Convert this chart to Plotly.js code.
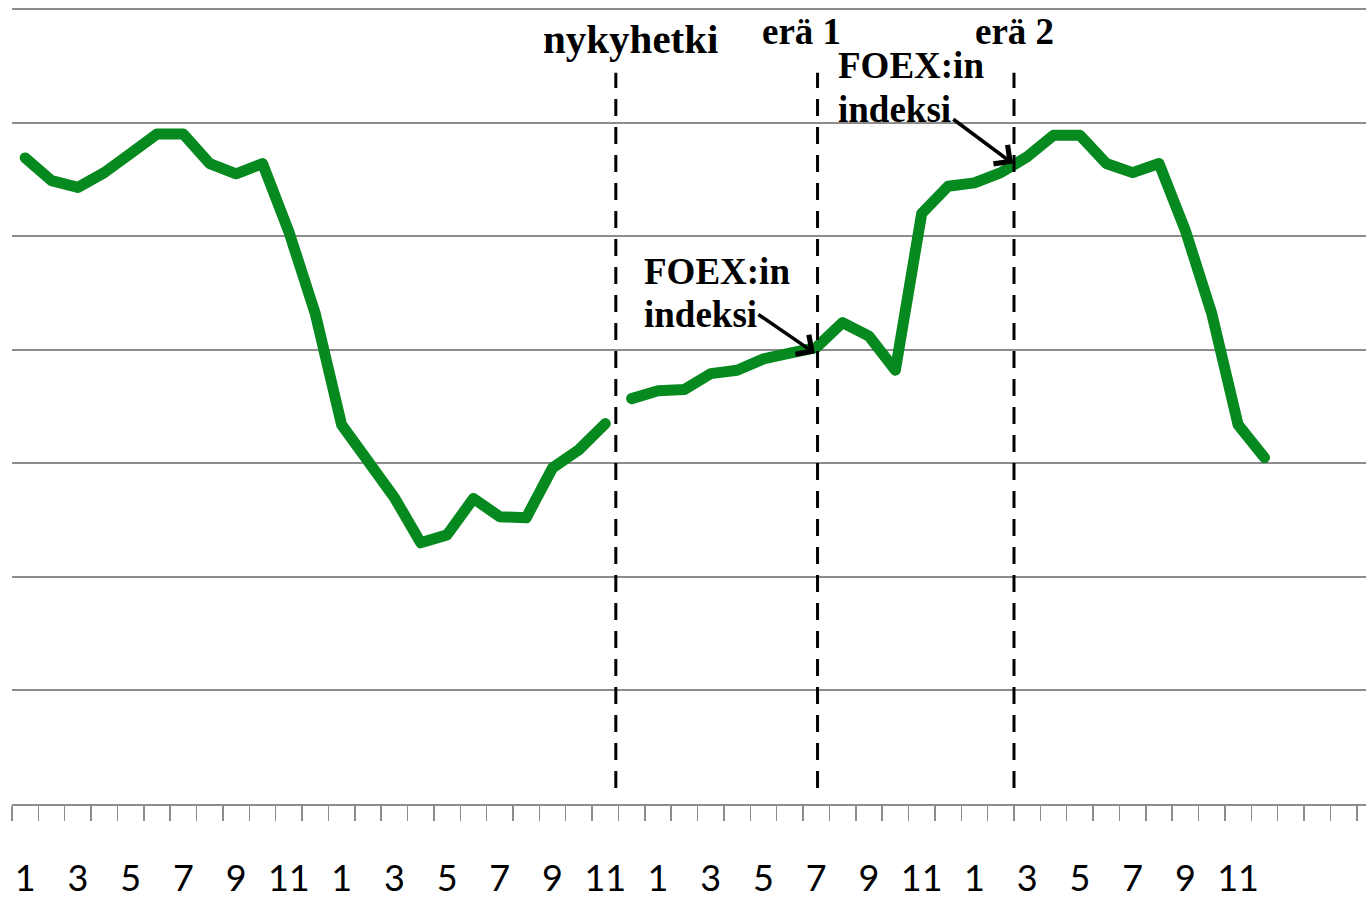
<!DOCTYPE html>
<html>
<head>
<meta charset="utf-8">
<script src="https://cdn.plot.ly/plotly-3.0.1.min.js"></script>
<style>
html,body{margin:0;padding:0;background:#fff;}
#chart{width:1366px;height:901px;}
.scatterlayer path.js-line{stroke-linecap:round !important;stroke-linejoin:round !important;}
</style>
</head>
<body>
<div id="chart"></div>
<script>
// Month labels (4 years, monthly)
const kuukaudet = [1,2,3,4,5,6,7,8,9,10,11,12, 1,2,3,4,5,6,7,8,9,10,11,12,
                   1,2,3,4,5,6,7,8,9,10,11,12, 1,2,3,4,5,6,7,8,9,10,11,12];
// Historical index (months 1..23)
const historia = [5.69,5.49,5.43,5.56,5.73,5.90,5.90,5.64,5.55,5.64,5.04,4.32,
                  3.34,3.01,2.70,2.30,2.37,2.69,2.53,2.52,2.96,3.12,3.35];
// Forecast (months 24..48)
const ennuste = [3.57,3.64,3.65,3.79,3.82,3.92,3.97,4.02,4.24,4.12,3.82,5.20,
                 5.44,5.47,5.56,5.70,5.89,5.89,5.64,5.56,5.64,5.05,4.32,3.34,3.05];
// Event markers (category position) and labels
const tapahtumat = [
  {nimi: 'nykyhetki', x: 22.4},
  {nimi: 'erä 1', x: 30.05},
  {nimi: 'erä 2', x: 37.5}
];

const xHist = historia.map((_, i) => i);
const xEnn = ennuste.map((_, i) => i + historia.length);
const tickIdx = kuukaudet.map((_, i) => i).filter(i => i % 2 === 0);

const green = '#06891E';
const serif = 'Liberation Serif, Times New Roman, serif';

const traces = [
  {x: xHist, y: historia, type: 'scatter', mode: 'lines',
   line: {color: green, width: 11}, hoverinfo: 'skip', showlegend: false},
  {x: xEnn, y: ennuste, type: 'scatter', mode: 'lines',
   line: {color: green, width: 11}, hoverinfo: 'skip', showlegend: false}
];

const shapes = tapahtumat.map(t => ({
  type: 'line', xref: 'x', yref: 'y', x0: t.x, x1: t.x, y0: 0.14, y1: 6.44,
  line: {color: '#000', width: 3, dash: '17px,11px'}
}));

const txtFont = {family: serif, size: 37, color: '#000'};
const annotations = [
  {text: '<b>' + tapahtumat[0].nimi + '</b>', x: 22.94, y: 6.74, xref: 'x', yref: 'y', showarrow: false,
   xanchor: 'center', yanchor: 'middle', font: {family: serif, size: 41, color: '#000'}},
  {text: '<b>' + tapahtumat[1].nimi + '</b>', x: 29.43, y: 6.80, xref: 'x', yref: 'y', showarrow: false,
   xanchor: 'center', yanchor: 'middle', font: txtFont},
  {text: '<b>' + tapahtumat[2].nimi + '</b>', x: 37.53, y: 6.80, xref: 'x', yref: 'y', showarrow: false,
   xanchor: 'center', yanchor: 'middle', font: txtFont},
  {text: '<b>FOEX:in</b>', x: 30.74, y: 6.50, xref: 'x', yref: 'y', showarrow: false,
   xanchor: 'left', yanchor: 'middle', font: txtFont},
  {text: '<b>indeksi</b>', x: 30.74, y: 6.12, xref: 'x', yref: 'y', showarrow: false,
   xanchor: 'left', yanchor: 'middle', font: txtFont},
  {text: '<b>FOEX:in</b>', x: 23.40, y: 4.69, xref: 'x', yref: 'y', showarrow: false,
   xanchor: 'left', yanchor: 'middle', font: txtFont},
  {text: '<b>indeksi</b>', x: 23.40, y: 4.31, xref: 'x', yref: 'y', showarrow: false,
   xanchor: 'left', yanchor: 'middle', font: txtFont},
  // arrows
  {text: '', x: 29.95, y: 3.97, ax: 27.75, ay: 4.32, xref: 'x', yref: 'y', axref: 'x', ayref: 'y',
   showarrow: true, arrowhead: 4, arrowsize: 1.3, arrowwidth: 3.5, arrowcolor: '#000', standoff: 0},
  {text: '', x: 37.46, y: 5.64, ax: 35.14, ay: 6.04, xref: 'x', yref: 'y', axref: 'x', ayref: 'y',
   showarrow: true, arrowhead: 4, arrowsize: 1.3, arrowwidth: 3.5, arrowcolor: '#000', standoff: 0}
];

const layout = {
  width: 1366, height: 901,
  margin: {l: 12, r: 0, t: 8, b: 97},
  paper_bgcolor: '#fff', plot_bgcolor: '#fff',
  showlegend: false,
  xaxis: {
    range: [-0.5, 50.85], showgrid: false, zeroline: false,
    showline: true, linecolor: '#8c8c8c', linewidth: 2,
    tickmode: 'array', tickvals: tickIdx, ticktext: tickIdx.map(i => String(kuukaudet[i])),
    ticks: '', ticklabelstandoff: 42,
    tickfont: {family: 'Lato, Calibri, sans-serif', size: 36, color: '#000'},
    minor: {tickmode: 'linear', tick0: -0.5, dtick: 1, ticks: 'outside', ticklen: 15,
            tickcolor: '#8c8c8c', tickwidth: 1.5, showgrid: false},
    fixedrange: true
  },
  yaxis: {
    range: [0, 7.01], tickmode: 'linear', tick0: 0, dtick: 1,
    showgrid: true, gridcolor: '#8c8c8c', gridwidth: 2,
    zeroline: false, showline: false, showticklabels: false, ticks: '',
    fixedrange: true
  },
  shapes: shapes,
  annotations: annotations
};

Plotly.newPlot('chart', traces, layout, {displayModeBar: false, staticPlot: true});
</script>
</body>
</html>
